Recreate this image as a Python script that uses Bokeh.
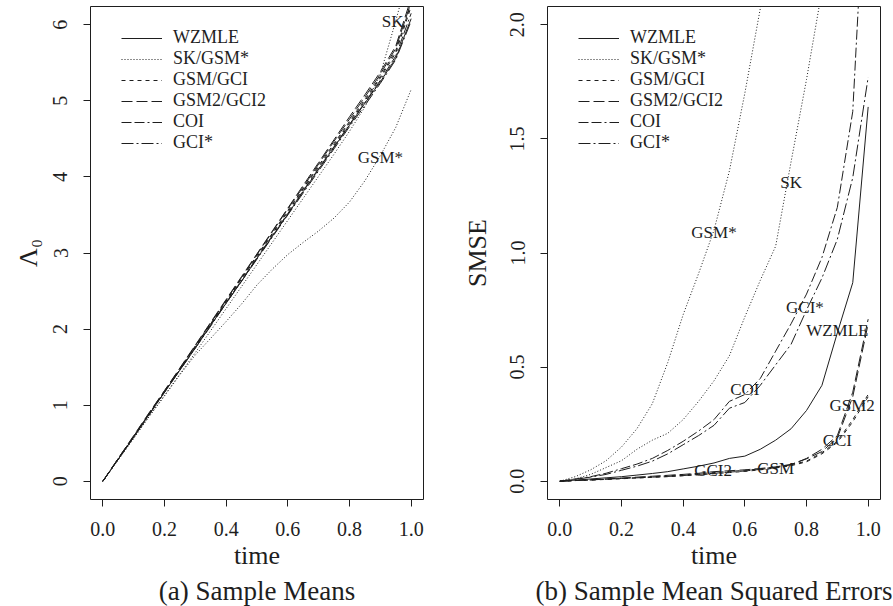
from bokeh.plotting import figure
from bokeh.layouts import row
from bokeh.models import (Range1d, FixedTicker, PrintfTickFormatter, Legend,
                          LegendItem, Title)
from bokeh.core.properties import value
from bokeh.embed import file_html
from bokeh.resources import INLINE

# ---------------- data ----------------
time = [0.00, 0.05, 0.10, 0.15, 0.20, 0.25, 0.30, 0.35, 0.40, 0.45, 0.50,
        0.55, 0.60, 0.65, 0.70, 0.75, 0.80, 0.85, 0.90, 0.95, 1.00]

# (a) sample means of Lambda_0
mean_wzmle = [0, 0.29, 0.58, 0.88, 1.17, 1.46, 1.75, 2.05, 2.34, 2.63, 2.93,
              3.22, 3.51, 3.81, 4.10, 4.39, 4.68, 4.97, 5.25, 5.56, 6.08]
mean_sk = [0, 0.28, 0.56, 0.85, 1.13, 1.41, 1.69, 1.98, 2.27, 2.56, 2.85,
           3.14, 3.43, 3.72, 4.01, 4.30, 4.60, 4.92, 5.35, 6.05, 6.80]
mean_gsm_star = [0, 0.29, 0.57, 0.85, 1.12, 1.40, 1.66, 1.88, 2.10, 2.33, 2.58,
                 2.79, 2.98, 3.14, 3.29, 3.46, 3.67, 3.95, 4.28, 4.65, 5.15]
mean_gsm = [0, 0.30, 0.59, 0.89, 1.18, 1.48, 1.78, 2.07, 2.37, 2.67, 2.97,
            3.26, 3.56, 3.85, 4.15, 4.44, 4.73, 5.02, 5.32, 5.66, 6.28]
mean_gci = [0, 0.29, 0.59, 0.88, 1.18, 1.47, 1.77, 2.07, 2.36, 2.66, 2.95,
            3.25, 3.54, 3.84, 4.13, 4.42, 4.71, 5.00, 5.30, 5.63, 6.24]
mean_gsm2 = [0, 0.30, 0.60, 0.90, 1.19, 1.49, 1.79, 2.09, 2.39, 2.69, 2.99,
             3.29, 3.59, 3.89, 4.19, 4.49, 4.79, 5.08, 5.38, 5.72, 6.35]
mean_gci2 = [0, 0.30, 0.59, 0.89, 1.19, 1.48, 1.78, 2.08, 2.38, 2.68, 2.98,
             3.28, 3.58, 3.87, 4.17, 4.47, 4.76, 5.05, 5.35, 5.69, 6.30]
mean_coi = [0, 0.29, 0.58, 0.88, 1.17, 1.47, 1.76, 2.06, 2.35, 2.64, 2.94,
            3.23, 3.52, 3.82, 4.11, 4.40, 4.69, 4.98, 5.27, 5.59, 6.15]
mean_gci_star = [0, 0.29, 0.58, 0.87, 1.17, 1.46, 1.75, 2.04, 2.34, 2.63, 2.92,
                 3.21, 3.50, 3.79, 4.08, 4.37, 4.66, 4.94, 5.23, 5.54, 6.05]

# (b) sample mean squared errors
smse_wzmle = [0, 0.005, 0.010, 0.015, 0.020, 0.027, 0.034, 0.042, 0.054, 0.066, 0.080,
              0.100, 0.110, 0.140, 0.180, 0.230, 0.310, 0.420, 0.650, 0.870, 1.640]
smse_sk = [0, 0.010, 0.030, 0.060, 0.090, 0.140, 0.180, 0.210, 0.270, 0.350, 0.440,
           0.550, 0.720, 0.880, 1.030, 1.400, 1.760, 2.150, 2.600, 3.100, 3.600]
smse_gsm_star = [0, 0.020, 0.050, 0.090, 0.150, 0.230, 0.340, 0.520, 0.730, 0.910, 1.100,
                 1.360, 1.700, 2.070, 2.500, 3.000, 3.500, 4.000, 4.500, 5.000, 5.500]
smse_gsm = [0, 0.003, 0.006, 0.009, 0.012, 0.016, 0.020, 0.024, 0.028, 0.033, 0.038,
            0.043, 0.048, 0.054, 0.062, 0.072, 0.088, 0.125, 0.175, 0.270, 0.380]
smse_gci = [0, 0.003, 0.005, 0.008, 0.011, 0.014, 0.017, 0.020, 0.024, 0.028, 0.033,
            0.038, 0.043, 0.050, 0.058, 0.068, 0.085, 0.120, 0.170, 0.260, 0.370]
smse_gsm2 = [0, 0.003, 0.006, 0.009, 0.012, 0.015, 0.018, 0.021, 0.025, 0.030, 0.035,
             0.040, 0.045, 0.052, 0.060, 0.072, 0.100, 0.140, 0.200, 0.390, 0.710]
smse_gci2 = [0, 0.003, 0.006, 0.010, 0.014, 0.018, 0.022, 0.026, 0.030, 0.035, 0.042,
             0.046, 0.050, 0.056, 0.063, 0.074, 0.098, 0.130, 0.190, 0.370, 0.690]
smse_coi = [0, 0.010, 0.020, 0.035, 0.055, 0.075, 0.100, 0.135, 0.175, 0.220, 0.270,
            0.350, 0.380, 0.450, 0.570, 0.690, 0.820, 0.980, 1.200, 1.620, 2.900]
smse_gci_star = [0, 0.008, 0.018, 0.030, 0.048, 0.066, 0.088, 0.120, 0.160, 0.200, 0.245,
                 0.320, 0.345, 0.420, 0.510, 0.600, 0.750, 0.890, 1.060, 1.330, 1.770]

# axes
xticks = [0.0, 0.2, 0.4, 0.6, 0.8, 1.0]
mean_yticks = [0, 1, 2, 3, 4, 5, 6]
smse_yticks = [0.0, 0.5, 1.0, 1.5, 2.0]
mean_ylim = [0, 6]
smse_ylim = [0, 2]
xlim = [0, 1]

# legend entries
legend_labels = ["WZMLE", "SK/GSM*", "GSM/GCI", "GSM2/GCI2", "COI", "GCI*"]

# in-plot curve labels
mean_tags = ["SK", "GSM*"]
mean_tag_x = [0.94, 0.90]
mean_tag_y = [6.04, 4.25]
smse_tags = ["SK", "GSM*", "GCI*", "WZMLE", "COI", "GSM2", "GCI", "GSM", "GCI2"]
smse_tag_x = [0.75, 0.50, 0.795, 0.90, 0.60, 0.948, 0.90, 0.70, 0.497]
smse_tag_y = [1.31, 1.09, 0.76, 0.66, 0.40, 0.33, 0.18, 0.057, 0.048]

# ---------------- styling ----------------
FONT = "Liberation Serif"
INK = "#1e1e1e"
DASH = {
    "WZMLE": "solid",
    "SK": "1 2",
    "GSM*": "1 2",
    "GSM": "4 4",
    "GCI": "4 4",
    "GSM2": "11 4",
    "GCI2": "11 4",
    "COI": "10 3 10 3 2 3",
    "GCI*": "12 3 2 3",
}
FRAME_W = 333
FRAME_H = 493
TOP = 6


def pad(lim):
    r = lim[1] - lim[0]
    return Range1d(lim[0] - 0.04 * r, lim[1] + 0.04 * r)


def panel(series, yticks, yfmt, ylim, ylabel, caption, left, right,
          ylabel_standoff, tags, tag_x, tag_y):
    p = figure(frame_width=FRAME_W, frame_height=FRAME_H,
               output_backend="svg", toolbar_location=None,
               x_range=pad(xlim), y_range=pad(ylim),
               min_border_left=left, min_border_right=right,
               min_border_top=TOP, min_border_bottom=0)
    p.background_fill_color = "white"
    p.border_fill_color = "white"
    p.outline_line_color = INK
    p.outline_line_width = 1
    p.xgrid.visible = False
    p.ygrid.visible = False

    for ax in (p.xaxis[0], p.yaxis[0]):
        ax.axis_line_color = None
        ax.major_tick_line_color = INK
        ax.major_tick_out = 7
        ax.major_tick_in = 0
        ax.minor_tick_line_color = None
        ax.major_label_text_font = FONT
        ax.major_label_text_font_size = "20px"
        ax.major_label_text_color = INK
        ax.axis_label_text_font = FONT
        ax.axis_label_text_font_style = "normal"
        ax.axis_label_text_font_size = "26px"
        ax.axis_label_text_color = INK

    p.xaxis.ticker = FixedTicker(ticks=xticks)
    p.xaxis.formatter = PrintfTickFormatter(format="%.1f")
    p.xaxis.axis_label = "time"
    p.xaxis.major_label_standoff = 15
    p.xaxis.axis_label_standoff = 2

    p.yaxis.ticker = FixedTicker(ticks=yticks)
    p.yaxis.formatter = PrintfTickFormatter(format=yfmt)
    p.yaxis.major_label_orientation = "vertical"
    p.yaxis.major_label_standoff = 16
    p.yaxis.axis_label = ylabel
    p.yaxis.axis_label_standoff = ylabel_standoff

    rends = {}
    for name, vals in series:
        rends[name] = p.line(time, vals, line_color=INK, line_width=1,
                             line_dash=DASH[name])

    legend_keys = ["WZMLE", "SK", "GSM", "GSM2", "COI", "GCI*"]
    items = [LegendItem(label=lab, renderers=[rends[k]])
             for lab, k in zip(legend_labels, legend_keys)]
    leg = Legend(items=items, location=(31, FRAME_H - 27 - 120),
                 glyph_width=41, glyph_height=20, label_height=20,
                 spacing=0, padding=0, margin=0, label_standoff=11,
                 border_line_color=None, background_fill_alpha=0,
                 label_text_font=FONT, label_text_font_size="18px",
                 label_text_color=INK)
    p.add_layout(leg)

    p.text(x=tag_x, y=tag_y, text=tags, text_font=value(FONT),
           text_font_size=value("17px"), text_align="center",
           text_baseline="middle", text_color=INK)

    p.add_layout(Title(text=caption, align="center", text_font=FONT,
                       text_font_size="27px", text_font_style="normal",
                       text_color=INK, standoff=2, offset=0), "below")
    return p


mean_series = [("WZMLE", mean_wzmle), ("SK", mean_sk), ("GSM*", mean_gsm_star),
               ("GSM", mean_gsm), ("GCI", mean_gci), ("GSM2", mean_gsm2),
               ("GCI2", mean_gci2), ("COI", mean_coi), ("GCI*", mean_gci_star)]
smse_series = [("WZMLE", smse_wzmle), ("SK", smse_sk), ("GSM*", smse_gsm_star),
               ("GSM", smse_gsm), ("GCI", smse_gci), ("GSM2", smse_gsm2),
               ("GCI2", smse_gci2), ("COI", smse_coi), ("GCI*", smse_gci_star)]

p1 = panel(mean_series, mean_yticks, "%d", mean_ylim, "Λ₀", "(a) Sample Means",
           90, 27, 8, mean_tags, mean_tag_x, mean_tag_y)
p2 = panel(smse_series, smse_yticks, "%.1f", smse_ylim, "SMSE",
           "(b) Sample Mean Squared Errors", 97, 13, 16,
           smse_tags, smse_tag_x, smse_tag_y)

layout = row(p1, p2)
open("out.html", "w").write(file_html(layout, INLINE))
